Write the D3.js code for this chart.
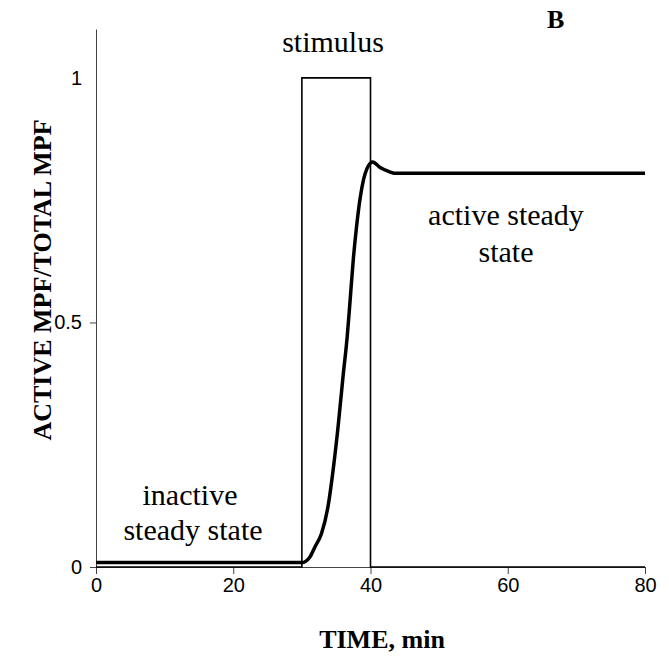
<!DOCTYPE html>
<html>
<head>
<meta charset="utf-8">
<script src="https://cdn.jsdelivr.net/npm/d3@7"></script>
<style>
  body { margin: 0; background: #fff; }
  .axis path, .axis line { stroke: #444; }
  .axis text { font-family: "Liberation Sans", Arial, sans-serif; font-size: 20px; fill: #000; }
  .note { font-family: "Liberation Serif", "Times New Roman", serif; font-size: 30px; fill: #000; }
  .title { font-family: "Liberation Serif", "Times New Roman", serif; font-size: 26px; font-weight: bold; fill: #000; }
</style>
</head>
<body>
<script>
  var width = 669;
  var height = 661;

  // stimulus pulse (step function)
  var stimTime = [0, 30, 30, 40, 40, 80];
  var stimValue = [0, 0, 1, 1, 0, 0];

  // active MPF / total MPF
  var mpfTime = [0, 10, 20, 30, 31.15, 31.9, 32.85, 33.8, 34.55, 35.3, 36.0, 36.6, 37.0, 37.5, 38.0, 38.5, 39.0, 39.5, 40.0, 40.3, 41.4, 42.8, 43.5, 50, 60, 70, 80];
  var mpfValue = [0.009, 0.009, 0.009, 0.009, 0.02, 0.041, 0.068, 0.123, 0.198, 0.29, 0.39, 0.47, 0.54, 0.63, 0.70, 0.755, 0.793, 0.815, 0.826, 0.828, 0.817, 0.808, 0.805, 0.805, 0.805, 0.805, 0.805];

  var xTicks = [0, 20, 40, 60, 80];
  var yTicks = [0, 0.5, 1];

  var margin = {top: 29, right: 24, bottom: 94, left: 96};

  var svg = d3.select("body").append("svg")
    .attr("width", width)
    .attr("height", height);

  var x = d3.scaleLinear().domain([0, 80]).range([margin.left, width - margin.right]);
  var y = d3.scaleLinear().domain([0, 1.1]).range([height - margin.bottom, margin.top]);

  svg.append("g")
      .attr("class", "axis")
      .attr("transform", "translate(0," + y(0) + ")")
      .call(d3.axisBottom(x).tickValues(xTicks).tickSize(7).tickPadding(4).tickSizeOuter(0));

  var yAxis = svg.append("g")
      .attr("class", "axis")
      .attr("transform", "translate(" + x(0) + ",0)")
      .call(d3.axisLeft(y).tickValues(yTicks).tickSize(6).tickPadding(8).tickSizeOuter(0)
        .tickFormat(function(d) { return d === 0.5 ? "0.5" : d; }));
  yAxis.selectAll(".tick line").filter(function(d) { return d === 1; }).remove();

  var stim = stimTime.map(function(t, i) { return [t, stimValue[i]]; });
  var mpf = mpfTime.map(function(t, i) { return [t, mpfValue[i]]; });

  var line = d3.line()
    .x(function(d) { return x(d[0]); })
    .y(function(d) { return y(d[1]); });

  svg.append("path")
      .datum(stim)
      .attr("d", line)
      .attr("fill", "none")
      .attr("stroke", "#000")
      .attr("stroke-width", 1.6);

  svg.append("path")
      .datum(mpf)
      .attr("d", line.curve(d3.curveMonotoneX))
      .attr("fill", "none")
      .attr("stroke", "#000")
      .attr("stroke-width", 3.5)
      .attr("stroke-linejoin", "round");

  // annotations
  svg.append("text").attr("class", "note").attr("text-anchor", "middle")
      .attr("x", 333).attr("y", 52).text("stimulus");
  svg.append("text").attr("class", "note").attr("text-anchor", "middle")
      .attr("x", 506).attr("y", 225).text("active steady");
  svg.append("text").attr("class", "note").attr("text-anchor", "middle")
      .attr("x", 506).attr("y", 262).text("state");
  svg.append("text").attr("class", "note").attr("text-anchor", "middle")
      .attr("x", 190).attr("y", 505).text("inactive");
  svg.append("text").attr("class", "note").attr("text-anchor", "middle")
      .attr("x", 193).attr("y", 540).text("steady state");

  svg.append("text").attr("class", "title").attr("font-size", "21px")
      .attr("x", 547).attr("y", 28).text("B");

  svg.append("text").attr("class", "title").attr("text-anchor", "middle")
      .attr("x", 382).attr("y", 648).text("TIME, min");

  svg.append("text").attr("class", "title").attr("text-anchor", "middle")
      .attr("transform", "translate(51,280) rotate(-90)")
      .text("ACTIVE MPF/TOTAL MPF");
</script>
</body>
</html>
